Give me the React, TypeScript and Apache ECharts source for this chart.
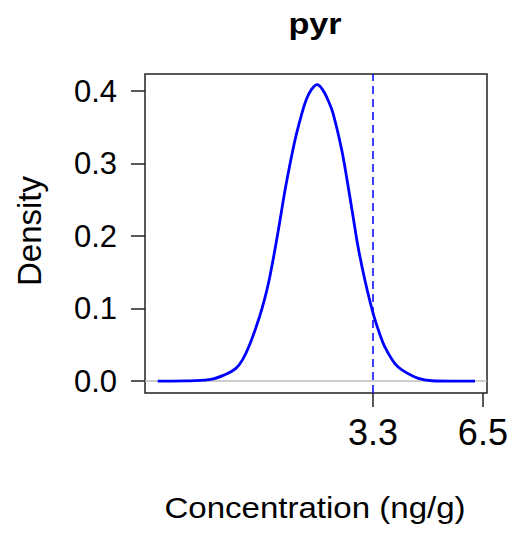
import React, { useEffect, useRef } from "react";
import * as echarts from "echarts";

const titleText = "pyr";
const xAxisTitle = "Concentration (ng/g)";
const yAxisTitle = "Density";

const curveX = [-2.98, -2.2, -1.48, -0.99, -0.7, -0.5, -0.3, -0.01, 0.13, 0.28, 0.5, 0.75, 0.93, 1.06, 1.21, 1.35, 1.5, 1.67, 1.84, 1.98, 2.13, 2.38, 2.54, 2.7, 2.86, 3.06, 3.3, 3.5, 3.64, 3.93, 4.15, 4.62, 5.01, 5.6, 6.27];
const curveY = [0.0, 0.0003, 0.002, 0.0095, 0.0175, 0.03, 0.05, 0.089, 0.112, 0.142, 0.198, 0.268, 0.312, 0.34, 0.367, 0.388, 0.402, 0.409, 0.401, 0.388, 0.3697, 0.32, 0.2776, 0.2316, 0.1855, 0.1395, 0.0935, 0.064, 0.0474, 0.0244, 0.0152, 0.0037, 0.0005, 0.0, 0.0];

const xTicks = [3.3, 6.5];
const yTicks = [0, 0.1, 0.2, 0.3, 0.4];
const refLineX = 3.3;
const xRange = [-3.35, 6.62];
const yRange = [-0.0164, 0.4236];

const FONT = "'Liberation Sans', Arial, sans-serif";

export default function App() {
  const ref = useRef<HTMLDivElement>(null);
  useEffect(() => {
    if (!ref.current) return;
    const chart = echarts.init(ref.current, null, { renderer: "svg" });
    const curve = curveX.map((x, i) => [x, curveY[i]]);
    chart.setOption({
      animation: false,
      backgroundColor: "#fff",
      grid: {
        left: 145,
        top: 74,
        right: 28,
        bottom: 142,
        show: true,
        borderColor: "#222",
        borderWidth: 1.5,
        backgroundColor: "transparent",
      },
      xAxis: {
        type: "value",
        min: xRange[0],
        max: xRange[1],
        axisLine: { show: false, onZero: false },
        splitLine: { show: false },
        axisTick: {
          show: true,
          length: 14,
          customValues: xTicks,
          lineStyle: { color: "#222", width: 1.5 },
        },
        axisLabel: {
          customValues: xTicks,
          margin: 21,
          fontSize: 36,
          fontFamily: FONT,
          color: "#000",
          formatter: (v: number) => v.toFixed(1),
        },
      },
      yAxis: {
        type: "value",
        min: yRange[0],
        max: yRange[1],
        axisLine: { show: false, onZero: false },
        splitLine: { show: false },
        axisTick: {
          show: true,
          length: 14,
          customValues: yTicks,
          lineStyle: { color: "#222", width: 1.5 },
        },
        axisLabel: {
          customValues: yTicks,
          margin: 28,
          fontSize: 31,
          fontFamily: FONT,
          color: "#000",
          formatter: (v: number) => v.toFixed(1),
        },
      },
      series: [
        {
          type: "line",
          data: [
            [xRange[0], 0],
            [xRange[1], 0],
          ],
          symbol: "none",
          silent: true,
          lineStyle: { color: "#bebebe", width: 1.5 },
        },
        {
          type: "line",
          data: curve,
          symbol: "none",
          smooth: 0.4,
          lineStyle: { color: "#0000ff", width: 2.8 },
          markLine: {
            silent: true,
            symbol: "none",
            label: { show: false },
            lineStyle: { color: "#0000ff", width: 1.5, type: [8, 5] },
            data: [{ xAxis: refLineX }],
          },
        },
      ],
      graphic: [
        {
          type: "text",
          x: 315,
          y: 24,
          scaleX: 1.18,
          style: {
            text: titleText,
            fontSize: 29,
            fontWeight: "bold",
            fontFamily: FONT,
            fill: "#000",
            align: "center",
            verticalAlign: "middle",
          },
        },
        {
          type: "text",
          x: 315,
          y: 508,
          scaleX: 1.14,
          style: {
            text: xAxisTitle,
            fontSize: 29,
            fontFamily: FONT,
            fill: "#000",
            align: "center",
            verticalAlign: "middle",
          },
        },
        {
          type: "text",
          x: 29,
          y: 231,
          rotation: Math.PI / 2,
          style: {
            text: yAxisTitle,
            fontSize: 33,
            fontFamily: FONT,
            fill: "#000",
            align: "center",
            verticalAlign: "middle",
          },
        },
      ],
    });
    return () => chart.dispose();
  }, []);
  return (
    <div
      ref={ref}
      style={{ position: "fixed", left: 0, top: 0, width: 515, height: 535 }}
    />
  );
}
